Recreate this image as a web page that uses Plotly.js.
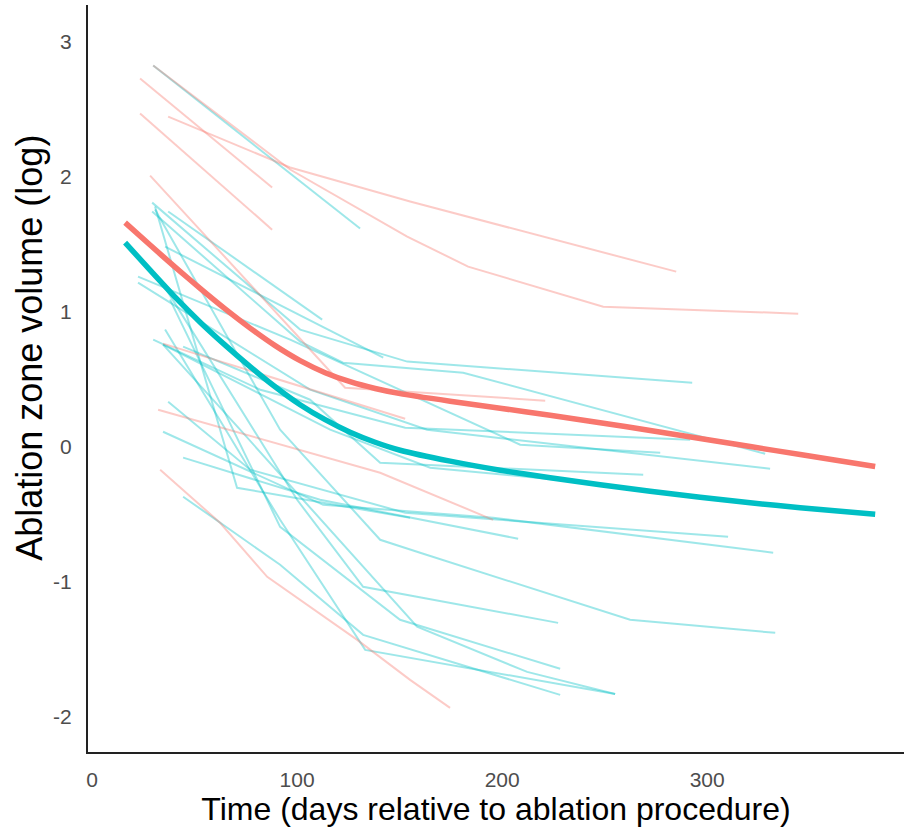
<!DOCTYPE html>
<html>
<head>
<meta charset="utf-8">
<script src="https://cdn.plot.ly/plotly-3.0.1.min.js"></script>
<style>html,body{margin:0;padding:0;background:#fff;}#chart{width:909px;height:832px;}</style>
</head>
<body>
<div id="chart"></div>
<script>
// Individual subject trajectories, group A (teal)
const tealDays = [
  [29.8,130.7],
  [37.1,112.2],
  [35.6,142.0],
  [29.3,101.5,153.7,292.7],
  [29.3,101.5,122.4,181.0,328.3],
  [22.4,96.6,208.8,277.1],
  [22.4,106.3,163.4,231.7,330.7],
  [29.8,82.0,152.7,291.7],
  [34.6,116.1,164.9,226.8],
  [44.4,106.3,140.5,268.8],
  [37.1,77.1,152.7,310.2],
  [34.6,112.7,195.6,332.2],
  [44.4,111.2,207.8],
  [30.7,70.7,112.7,155.1],
  [33.2,100.0,132.2,227.3],
  [44.4,91.7,132.2,228.3],
  [34.6,72.2,158.5,212.2,255.1],
  [35.6,91.7,133.2,255.1],
  [38.0,91.7,150.2,228.3],
  [30.7,91.7,140.5,160.0,262.4,333.2]
];
const tealVolume = [
  [2.822,1.615],
  [1.741,0.941],
  [1.481,0.659],
  [1.807,0.867,0.630,0.474],
  [1.741,0.778,0.622,0.548,-0.052],
  [1.259,0.793,0.015,-0.044],
  [1.215,0.422,0.126,0.007,-0.163],
  [0.793,0.422,0.141,0.052],
  [0.756,0.126,-0.156,-0.244],
  [0.741,0.348,-0.119,-0.207],
  [0.333,-0.170,-0.489,-0.667],
  [0.111,-0.430,-0.526,-0.785],
  [-0.081,-0.393,-0.681],
  [1.778,-0.304,-0.415,-0.526],
  [1.237,-0.393,-1.037,-1.304],
  [-0.370,-0.874,-1.393,-1.837],
  [0.756,0.126,-1.333,-1.667,-1.830],
  [0.867,-0.541,-1.504,-1.830],
  [1.089,-0.593,-1.281,-1.644],
  [1.756,0.126,-0.689,-0.785,-1.281,-1.378]
];
// Individual subject trajectories, group B (red)
const redDays = [
  [23.4,87.8],
  [23.4,87.8],
  [37.1,96.6,155.1,284.9],
  [29.8,96.6,153.7,183.4,249.3,344.4],
  [28.3,123.4,221.0],
  [34.6,152.7],
  [32.2,140.5,195.6],
  [33.2,62.4,85.4,106.3,129.3,155.1,174.6]
];
const redVolume = [
  [2.726,1.919],
  [2.467,1.607],
  [2.444,2.067,1.815,1.296],
  [2.822,2.052,1.556,1.333,1.037,0.985],
  [2.007,0.437,0.341],
  [0.763,0.207],
  [0.274,-0.193,-0.541],
  [-0.170,-0.563,-0.963,-1.185,-1.430,-1.726,-1.933]
];
// Smoothed group means
const meanDays = [16.10,28.29,40.49,52.68,64.88,77.07,89.27,101.46,113.66,125.85,138.05,150.24,174.63,199.02,223.41,247.80,272.20,296.59,320.98,345.37,381.95];
const redMeanVolume = [1.659,1.493,1.330,1.172,1.020,0.878,0.748,0.637,0.548,0.481,0.431,0.393,0.337,0.285,0.233,0.178,0.120,0.061,0.001,-0.058,-0.147];
const tealMeanVolume = [1.511,1.307,1.107,0.922,0.752,0.593,0.444,0.311,0.200,0.107,0.033,-0.026,-0.107,-0.174,-0.230,-0.281,-0.330,-0.374,-0.415,-0.452,-0.500];

const xTicks = [0,100,200,300];
const xTickText = ['0','100','200','300'];
const yTicks = [-2,-1,0,1,2,3];
const yTickText = ['-2','-1','0','1','2','3'];

const TEAL = '#00BFC4', RED = '#F8766D';
const traces = [];
tealDays.forEach((d,i)=>traces.push({x:d,y:tealVolume[i],mode:'lines',type:'scatter',
  line:{color:'rgba(0,191,196,0.38)',width:2},hoverinfo:'skip',showlegend:false}));
redDays.forEach((d,i)=>traces.push({x:d,y:redVolume[i],mode:'lines',type:'scatter',
  line:{color:'rgba(248,118,109,0.38)',width:2},hoverinfo:'skip',showlegend:false}));
traces.push({x:meanDays,y:redMeanVolume,mode:'lines',type:'scatter',
  line:{color:RED,width:5.5,shape:'spline',smoothing:0.6},showlegend:false});
traces.push({x:meanDays,y:tealMeanVolume,mode:'lines',type:'scatter',
  line:{color:TEAL,width:5.5,shape:'spline',smoothing:0.6},showlegend:false});

const FONT = 'Liberation Sans, Arial, sans-serif';
const layout = {
  width:909, height:832,
  margin:{l:88,r:5,t:5,b:80},
  paper_bgcolor:'#fff', plot_bgcolor:'#fff',
  font:{family:FONT},
  showlegend:false,
  xaxis:{range:[-2,396],tickvals:xTicks,ticktext:xTickText,showgrid:false,zeroline:false,
    showline:true,linecolor:'#222',linewidth:2,ticks:'',ticklabelstandoff:8,
    tickfont:{family:FONT,size:21,color:'#4d4d4d'},
    title:{text:'Time (days relative to ablation procedure)',font:{family:FONT,size:32,color:'#000'},standoff:3}},
  yaxis:{range:[-2.26,3.27],tickvals:yTicks,ticktext:yTickText,showgrid:false,zeroline:false,
    showline:true,linecolor:'#222',linewidth:2,ticks:'',ticklabelstandoff:10,
    tickfont:{family:FONT,size:21,color:'#4d4d4d'},
    title:{text:''}},
  annotations:[{text:'Ablation zone volume (log)',textangle:-90,xref:'paper',yref:'paper',
    x:-0.0711,y:0.541,xanchor:'center',yanchor:'middle',showarrow:false,
    font:{family:FONT,size:36,color:'#000'}}]
};
Plotly.newPlot('chart',traces,layout,{displayModeBar:false,staticPlot:true});
</script>
</body>
</html>
